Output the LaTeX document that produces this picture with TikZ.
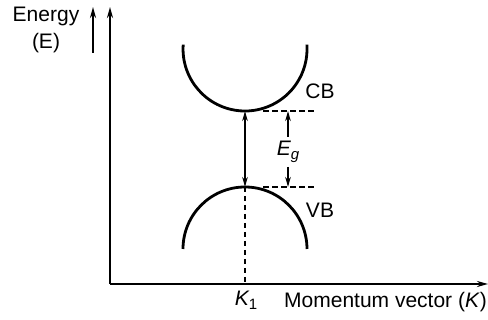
\documentclass[tikz,border=0pt]{standalone}
\usepackage{fontspec}
\setmainfont{Liberation Sans}
\usetikzlibrary{arrows.meta}
\begin{document}
\begin{tikzpicture}[x=1pt,y=1pt,
  lbl/.style={inner sep=0pt,font=\fontsize{21}{24}\selectfont},
  axis/.style={line width=2pt,-{Stealth[length=11pt,width=6pt]}},
  band/.style={line width=2.8pt},
  dashln/.style={line width=1.5pt,dash pattern=on 5.5pt off 3.5pt},
  gap/.style={line width=1.6pt,-{Stealth[length=10pt,width=5.5pt]}}]
\useasboundingbox (0,0) rectangle (488,320);
% axes
\coordinate (O) at (110,36);
\coordinate (ytop) at (110,313);
\coordinate (xend) at (488,36);
\draw[axis] (O) -- (ytop);
\draw[axis] (O) -- (xend);
\coordinate (ea) at (93,267);
\coordinate (eb) at (93,313);
\draw[axis] (ea) -- (eb);
\node[lbl] (energy) at (46,304) {Energy};
\node[lbl] (E) at (46,277) {(E)};
% bands
\draw[band] (183.2,275.3) arc[start angle=176,end angle=364,radius=62];
\draw[band] (307,71) arc[start angle=0,end angle=180,radius=62];
\coordinate (cbmin) at (245,209);
\coordinate (vbmax) at (245,133);
\coordinate (k1) at (245,36);
\draw[gap,{Stealth[length=10pt,width=5.5pt]}-{Stealth[length=10pt,width=5.5pt]}] (cbmin) -- (vbmax);
\draw[dashln] (vbmax) -- (k1);
% dashed levels
\coordinate (cbl) at (263,209);
\coordinate (cbr) at (314,209);
\coordinate (vbl) at (263,133);
\coordinate (vbr) at (314,133);
\draw[dashln] (cbl) -- (cbr);
\draw[dashln] (vbl) -- (vbr);
\node[lbl] (eg) at (288,168) {\itshape E\raisebox{-0.35ex}{\fontsize{15}{17}\selectfont g}};
\coordinate (egt) at (288,209);
\coordinate (egb) at (288,133);
\draw[gap] (288,183) -- (egt);
\draw[gap] (288,153) -- (egb);
\node[lbl] (cb) at (320,229) {CB};
\node[lbl] (vb) at (320,110) {VB};
\node[lbl] (k1l) at (246,20) {\itshape K\raisebox{-0.35ex}{\upshape\fontsize{15}{17}\selectfont 1}};
\node[lbl,anchor=west] (mom) at (284,18) {Momentum vector (\textit{K})};
\end{tikzpicture}
\end{document}
